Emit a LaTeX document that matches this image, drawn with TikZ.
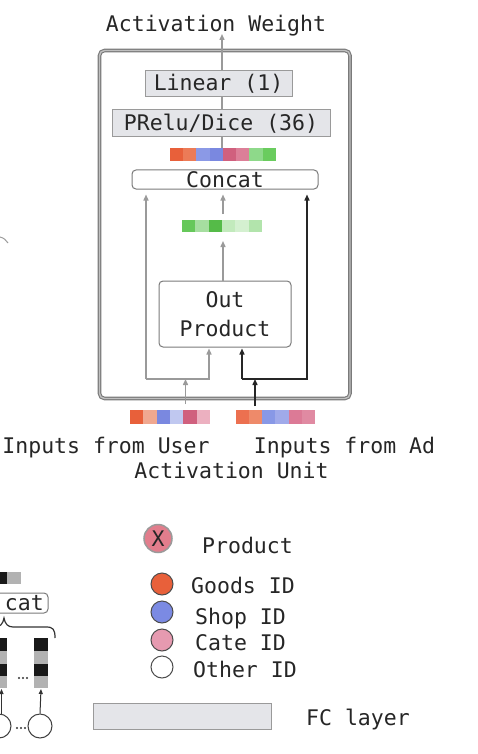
\documentclass[tikz,border=0pt]{standalone}
\usepackage{fontspec}
\setmainfont{DejaVu Sans Mono}
\usetikzlibrary{arrows.meta}
\definecolor{txt}{HTML}{262626}
\definecolor{lgray}{HTML}{9A9A9A}
\definecolor{fcfill}{HTML}{E4E5E9}
\definecolor{boxline}{HTML}{7A7A7A}
\definecolor{goods}{HTML}{E8603A}
\definecolor{shop}{HTML}{7B8AE3}
\definecolor{cate}{HTML}{E69AB0}
\definecolor{prod}{HTML}{E27D8C}
\tikzset{
  every node/.style={text=txt, font=\fontsize{21.5}{30}\selectfont},
  fcbox/.style={draw=lgray, fill=fcfill, line width=1pt, inner sep=0pt},
  roundbox/.style={draw=boxline, fill=white, rounded corners=4pt, line width=1pt, inner sep=0pt},
  cell/.style={draw=none, minimum width=13.3pt, minimum height=13pt, inner sep=0pt},
  garrow/.style={draw=lgray, line width=1.4pt, -{Triangle[length=6pt,width=5pt]}},
  gline/.style={draw=lgray, line width=1.4pt},
  barrow/.style={draw=black!85, line width=1.4pt, -{Triangle[length=6pt,width=5pt]}},
  bline/.style={draw=black!85, line width=1.4pt},
  lab/.style={anchor=base west, inner sep=0pt},
  legcirc/.style={circle, draw=black!70, line width=1pt, minimum size=22pt, inner sep=0pt},
}
\begin{document}
\begin{tikzpicture}[x=1pt,y=-1pt]
\useasboundingbox (0,0) rectangle (478,754);
\clip (0,0) rectangle (478,754);
\fill[white] (0,0) rectangle (478,754);

% outer activation unit box
\draw[draw=boxline, line width=1.1pt, double=black!25, double distance=1.4pt, rounded corners=5pt]
  (99.5,50.5) rectangle (350,398.5);

% title
\node[anchor=base, inner sep=0pt] (aw) at (216,32) {Activation Weight};

% FC boxes
\node[fcbox, minimum width=147pt, minimum height=26pt] (lin) at (218.5,84) {Linear (1)};
\node[fcbox, minimum width=218pt, minimum height=27pt] (prelu) at (221,123.5) {PRelu/Dice (36)};

% concat colour bar
\foreach \c [count=\i from 0] in {E8603A,EC7B57,8B99E6,7A88E0,D0607E,DC7F98,8ED98A,6ACC5E}{
  \definecolor{tmpc}{HTML}{\c}
  \node[cell, fill=tmpc] (cb\i) at ({176.6+13.25*\i},154.5) {};
}
\coordinate (cbtop) at (222,148);

% Concat box
\node[roundbox, minimum width=186pt, minimum height=19pt] (concat) at (225,179.5) {Concat};

% green bar
\foreach \c [count=\i from 0] in {66C85A,A6DEA0,55BB48,C2EABC,D4F0D0,B2E4AC}{
  \definecolor{tmpc}{HTML}{\c}
  \node[cell, fill=tmpc, minimum height=12pt] (gb\i) at ({188.7+13.33*\i},226) {};
}

% Out Product
\node[roundbox, minimum width=132pt, minimum height=66pt, align=center] (op) at (225,314)
  {Out\\[-1pt]Product};

% input bars
\foreach \c [count=\i from 0] in {E8603A,F0A890,7A88E0,C0C8F0,D0607E,ECB0C0}{
  \definecolor{tmpc}{HTML}{\c}
  \node[cell, fill=tmpc, minimum height=14pt] (ub\i) at ({136.7+13.33*\i},417) {};
}
\foreach \c [count=\i from 0] in {EC7050,EE8A6A,8898E6,A0AAEA,DC7A96,E08AA2}{
  \definecolor{tmpc}{HTML}{\c}
  \node[cell, fill=tmpc, minimum height=14pt] (ab\i) at ({242.6+13.17*\i},417) {};
}

% coordinates for connectors
\coordinate (awtip) at (222,34);
\coordinate (lintop) at (222,71);
\coordinate (linbot) at (222,97);
\coordinate (pretop) at (222,110);
\coordinate (prebot) at (222,137);
\coordinate (cl) at (146,194.5);
\coordinate (cm) at (223,194.5);
\coordinate (cr) at (307,194.5);
\coordinate (gbot) at (223,241);
\coordinate (gtop) at (223,214);
\coordinate (opl) at (209,348.5);
\coordinate (opr) at (242,348.5);
\coordinate (ul) at (146,379);
\coordinate (um) at (185.5,379);
\coordinate (ur) at (209,379);
\coordinate (al) at (242,379);
\coordinate (am) at (255,379);
\coordinate (ar) at (307,379);
\coordinate (uin) at (185.5,404);
\coordinate (ain) at (255,406);

\draw[garrow] (lintop) -- (awtip);
\draw[gline] (linbot) -- (pretop);
\draw[gline] (prebot) -- (cbtop);
\draw[garrow] (op.north -| gbot) -- (gbot);
\draw[garrow] (gtop) -- (cm);
\draw[garrow] (ul) -- (cl);
\draw[garrow] (ul) -- (ur) -- (opl);
\draw[garrow] (uin) -- (um);
\draw[barrow] (al) -- (opr);
\draw[barrow] (al) -- (ar) -- (cr);
\draw[barrow] (ain) -- (am);

% labels
\node[anchor=base, inner sep=0pt] (iu) at (106,453) {Inputs from User};
\node[anchor=base, inner sep=0pt] (ia) at (344.5,453) {Inputs from Ad};
\node[anchor=base, inner sep=0pt] (au) at (231.5,478) {Activation Unit};

% legend
\node[circle, draw=lgray, line width=1.5pt, fill=prod, minimum size=28pt, inner sep=0pt] (lp) at (158,538.5) {X};
\node[lab] (lpt) at (202,553) {Product};
\node[legcirc, fill=goods] (lg) at (162,584) {};
\node[lab] (lgt) at (191,593) {Goods ID};
\node[legcirc, fill=shop] (ls) at (162,612) {};
\node[lab] (lst) at (195,624) {Shop ID};
\node[legcirc, fill=cate] (lc) at (162,640) {};
\node[lab] (lct) at (195,650) {Cate ID};
\node[legcirc, fill=white] (lo) at (162,667) {};
\node[lab] (lot) at (193,677) {Other ID};
\node[fcbox, minimum width=178pt, minimum height=26pt] (lfc) at (182,716) {};
\node[lab] (lfct) at (306,725) {FC layer};

% partial figure on the left (cut off)
\draw[gline, line width=1pt] (0,237) .. controls (4,238) and (6,240) .. (8,243);
\fill[black!90] (-7,572) rectangle (7,584);
\fill[black!30] (7,572) rectangle (21,584);
\node[roundbox, minimum width=78pt, minimum height=20pt, text depth=0pt] (cc) at (9,603) {};
\node[anchor=east, inner sep=0pt] (cct) at (44,603) {cat};
\draw[black!80, line width=1.2pt]
  (55,638) .. controls (55,629) and (53,627) .. (46,627) -- (13,627)
  .. controls (8,627) and (5,624) .. (4,618)
  .. controls (3,624) and (0,627) .. (-5,627) -- (-40,627);
\foreach \xx in {-7,34}{
  \fill[black!90] (\xx,638) rectangle ++(14,13);
  \fill[black!30] (\xx,651) rectangle ++(14,13);
  \fill[black!90] (\xx,664) rectangle ++(14,12);
  \fill[black!30] (\xx,676) rectangle ++(14,12);
}
\foreach \xx in {19,23,27} \fill[black!80] (\xx,678) circle (1.1pt);
\node[circle, draw=black!75, line width=1pt, minimum size=24pt, inner sep=0pt] (c1) at (-1,726) {};
\node[circle, draw=black!75, line width=1pt, minimum size=24pt, inner sep=0pt] (c2) at (40,726) {};
\foreach \xx in {17,21,25} \fill[black!80] (\xx,728) circle (1.1pt);
\draw[black!80, line width=1pt, -{Triangle[length=5pt,width=4pt]}] (c2.north) -- (41,689);
\draw[black!80, line width=1pt, -{Triangle[length=5pt,width=4pt]}] (c1.north -| 1.5,0) -- (1.5,689);
\end{tikzpicture}
\end{document}
